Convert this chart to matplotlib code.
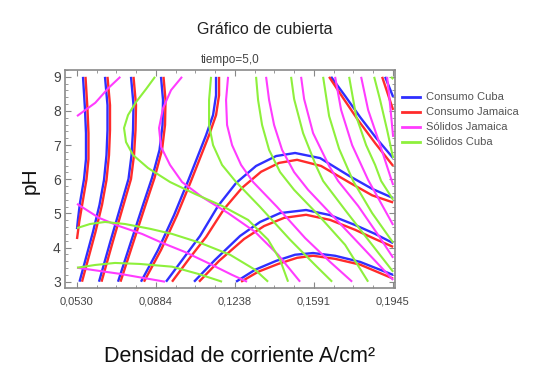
import matplotlib
matplotlib.use("Agg")
import matplotlib.pyplot as plt
from matplotlib.lines import Line2D

plt.rcParams['font.family'] = ['Liberation Sans', 'DejaVu Sans']

# ---------------- contour lines: (current density A/cm2, pH) ----------------
consumo_cuba = [
    ([.05569, .05658, .05703, .05703, .05614, .05434, .05344, .05300],
     [9.00, 8.05, 7.35, 6.59, 6.00, 5.31, 4.83, 4.54]),
    ([.06554, .06666, .06666, .06621, .06510, .06308, .06017, .05703, .05412],
     [9.00, 8.17, 7.44, 6.71, 5.98, 5.25, 4.46, 3.70, 3.00]),
    ([.07719, .07831, .07809, .07742, .07607, .07271, .06778, .06286],
     [9.00, 8.17, 7.44, 6.71, 6.01, 5.25, 4.14, 3.00]),
    ([.09062, .09152, .09130, .08996, .08660, .08257, .07674, .07137],
     [9.00, 8.32, 7.59, 6.86, 6.04, 5.25, 4.08, 3.00]),
    ([.11527, .11527, .11393, .11079, .10676, .10273, .09646, .08929, .08166],
     [9.00, 8.46, 7.88, 7.29, 6.62, 5.95, 4.95, 3.93, 3.00]),
    ([.09287, .10049, .10810, .11617, .12423, .13319, .14215, .15066, .16186, .17485, .18516, .19457],
     [3.00, 3.67, 4.34, 5.22, 5.89, 6.39, 6.68, 6.77, 6.62, 6.10, 5.72, 5.45]),
    ([.10542, .11482, .12602, .13498, .14394, .15559, .16634, .17754, .18650, .19457],
     [3.00, 3.64, 4.34, 4.75, 5.01, 5.10, 4.95, 4.66, 4.40, 4.13]),
    ([.12423, .13274, .14215, .15066, .15872, .16858, .17978, .19457],
     [3.00, 3.35, 3.61, 3.79, 3.84, 3.76, 3.58, 3.20]),
    ([.16679, .17306, .17978, .18695, .19457],
     [9.00, 8.44, 7.82, 7.21, 6.62]),
    ([.19098, .19457],
     [9.00, 8.41]),
]

consumo_jamaica = [
    ([.05681, .05770, .05815, .05815, .05726, .05546, .05400, .05300],
     [9.00, 8.05, 7.35, 6.59, 6.00, 5.31, 4.75, 4.25]),
    ([.06666, .06778, .06778, .06733, .06622, .06420, .06129, .05815, .05524],
     [9.00, 8.17, 7.44, 6.71, 5.98, 5.25, 4.46, 3.70, 3.00]),
    ([.07831, .07943, .07921, .07854, .07719, .07383, .06890, .06398],
     [9.00, 8.17, 7.44, 6.71, 6.01, 5.25, 4.14, 3.00]),
    ([.09174, .09264, .09242, .09108, .08772, .08369, .07786, .07249],
     [9.00, 8.32, 7.59, 6.86, 6.04, 5.25, 4.08, 3.00]),
    ([.11661, .11661, .11527, .11213, .10810, .10407, .09780, .09063, .08300],
     [9.00, 8.46, 7.88, 7.29, 6.62, 5.95, 4.95, 3.93, 3.00]),
    ([.09556, .10318, .11079, .11886, .12692, .13543, .14350, .15156, .16231, .17485, .18516, .19457],
     [3.00, 3.67, 4.31, 5.13, 5.75, 6.22, 6.48, 6.57, 6.39, 5.91, 5.53, 5.32]),
    ([.10765, .11662, .12781, .13677, .14573, .15559, .16634, .17754, .18650, .19457],
     [3.00, 3.61, 4.25, 4.63, 4.87, 4.96, 4.81, 4.52, 4.25, 4.02]),
    ([.12647, .13409, .14305, .15156, .15872, .16858, .17978, .19457],
     [3.00, 3.29, 3.52, 3.70, 3.76, 3.67, 3.50, 3.09]),
    ([.16589, .17216, .17888, .18650, .19457],
     [9.00, 8.38, 7.73, 7.06, 6.39]),
    ([.18964, .19457],
     [9.00, 8.03]),
]

solidos_jamaica = [
    ([.05300, .06120, .06720, .07240],
     [7.85, 8.24, 8.68, 9.00]),
    ([.05300, .06286, .07182, .08212, .09108, .10138, .11258, .12244, .12916],
     [5.28, 4.87, 4.63, 4.40, 4.14, 3.87, 3.52, 3.20, 3.00]),
    ([.05300, .07226, .09242],
     [3.41, 3.23, 3.00]),
    ([.10004, .09511, .09153, .08974, .09063, .09466, .10004, .10900, .12065, .13274, .14305, .15290],
     [9.00, 8.61, 8.08, 7.50, 6.95, 6.42, 5.92, 5.48, 5.01, 4.46, 3.79, 3.00]),
    ([.12065, .11975, .12020, .12244, .12647, .13185, .14260, .15514, .16634, .17620],
     [9.00, 8.32, 7.59, 7.00, 6.42, 5.92, 5.19, 4.28, 3.58, 3.00]),
    ([.13767, .13902, .14126, .14484, .15022, .15649, .16634, .17978, .19457],
     [9.00, 8.32, 7.59, 6.86, 6.21, 5.69, 5.01, 4.08, 3.05]),
    ([.15335, .15470, .15873, .16590, .16993, .17889, .18785, .19457],
     [9.00, 8.35, 7.35, 6.39, 5.95, 5.22, 4.37, 3.70]),
    ([.16858, .17127, .17620, .18337, .19457],
     [9.00, 8.03, 7.00, 5.98, 4.66]),
    ([.18023, .18337, .18874, .19457],
     [9.00, 8.03, 7.00, 5.83]),
    ([.19188, .19322, .19457],
     [9.00, 8.17, 7.24]),
]

solidos_cuba = [
    ([.05300, .06106, .07002, .08122, .09556, .10721, .11796],
     [3.41, 3.49, 3.55, 3.52, 3.44, 3.23, 3.00]),
    ([.05300, .05882, .06554, .07450, .08570, .09556, .10810, .12154, .13274, .13857],
     [4.57, 4.69, 4.75, 4.69, 4.55, 4.40, 4.14, 3.79, 3.35, 3.00]),
    ([.08794, .08391, .07943, .07585, .07406, .07495, .07809, .08481, .09466, .10586, .11796, .12961, .13857, .14394, .14753],
     [9.00, 8.64, 8.26, 7.88, 7.50, 7.09, 6.71, 6.33, 5.92, 5.57, 5.22, 4.81, 4.23, 3.64, 3.00]),
    ([.11303, .11214, .11214, .11393, .11796, .12423, .13498, .14842, .15962, .16724],
     [9.00, 8.32, 7.59, 7.00, 6.42, 5.92, 5.19, 4.23, 3.49, 3.00]),
    ([.13319, .13409, .13588, .13902, .14394, .15022, .16097, .17306, .18337],
     [9.00, 8.32, 7.59, 6.86, 6.21, 5.69, 4.96, 4.08, 3.00]),
    ([.14887, .15022, .15425, .16007, .16321, .17306, .18337, .19457],
     [9.00, 8.35, 7.35, 6.39, 5.95, 5.10, 4.23, 3.29]),
    ([.16321, .16590, .17038, .17665, .18516, .19457],
     [9.00, 7.85, 6.89, 5.95, 5.01, 4.14]),
    ([.17486, .17799, .18247, .18650, .18919, .19457],
     [9.00, 7.85, 7.00, 6.42, 5.95, 5.40]),
    ([.18606, .18874, .19188, .19457],
     [9.00, 8.32, 7.44, 6.62]),
    ([.19367, .19457],
     [9.00, 8.93]),
]

series_names = ["Consumo Cuba", "Consumo Jamaica", "Sólidos Jamaica", "Sólidos Cuba"]
series_colors = ["#2f2fff", "#ff2b2b", "#ff3cff", "#8ef03c"]
series_widths = [1.7, 1.7, 1.5, 1.5]

x_ticks = [0.0530, 0.0884, 0.1238, 0.1591, 0.1945]
x_tick_labels = ["0,0530", "0,0884", "0,1238", "0,1591", "0,1945"]
y_ticks = [3, 4, 5, 6, 7, 8, 9]

# ---------------- figure ----------------
fig = plt.figure(figsize=(5.48, 3.69), dpi=100)
ax = fig.add_axes([65 / 548, 1 - 288 / 369, 330 / 548, 218 / 369])

all_series = [consumo_cuba, consumo_jamaica, solidos_jamaica, solidos_cuba]
for lines, color, lw in zip(all_series, series_colors, series_widths):
    for xs, ys in lines:
        ax.plot(xs, ys, color=color, lw=lw, solid_capstyle='butt',
                solid_joinstyle='round')

ax.set_xlim(0.04763, 0.19540)
ax.set_ylim(2.816, 9.196)

ax.set_xticks(x_ticks)
ax.set_xticklabels(x_tick_labels)
step = (x_ticks[-1] - x_ticks[0]) / 16
ax.set_xticks([x_ticks[0] + i * step for i in range(17)], minor=True)
ax.set_yticks(y_ticks)
ax.set_yticks([3 + 0.2 * i for i in range(32)], minor=True)

ax.tick_params(which='both', direction='in', top=True, right=True,
               color='#888888', labelcolor='#444444')
ax.tick_params(which='major', length=4, width=0.8)
ax.tick_params(which='minor', length=2, width=0.6)
ax.tick_params(axis='x', labelsize=8, pad=6)
ax.tick_params(axis='y', labelsize=10, pad=3)
for s in ax.spines.values():
    s.set_color('#8a8a8a')
    s.set_linewidth(1.2)

fig.text(265 / 548, 1 - 30 / 369, "Gráfico de cubierta", ha='center', va='center',
         fontsize=11.5, color='#222222')
fig.text(230 / 548, 1 - 60 / 369, "tiempo=5,0", ha='center', va='center',
         fontsize=8.5, color='#444444')
fig.text(30 / 548, 1 - 181 / 369, "pH", ha='center', va='center', rotation=90,
         fontsize=15, color='#111111')
fig.text(239 / 548, 1 - 356 / 369, "Densidad de corriente A/cm²", ha='center', va='center',
         fontsize=15.5, color='#111111')

handles = [Line2D([], [], color=c, lw=2) for c in series_colors]
fig.legend(handles, series_names, loc='upper left',
           bbox_to_anchor=(398 / 548, 1 - 88 / 369), frameon=False,
           fontsize=8, handlelength=1.6, handletextpad=0.5, labelspacing=0.45,
           labelcolor='#555555', borderaxespad=0)

fig.savefig("out.png", dpi=100)
